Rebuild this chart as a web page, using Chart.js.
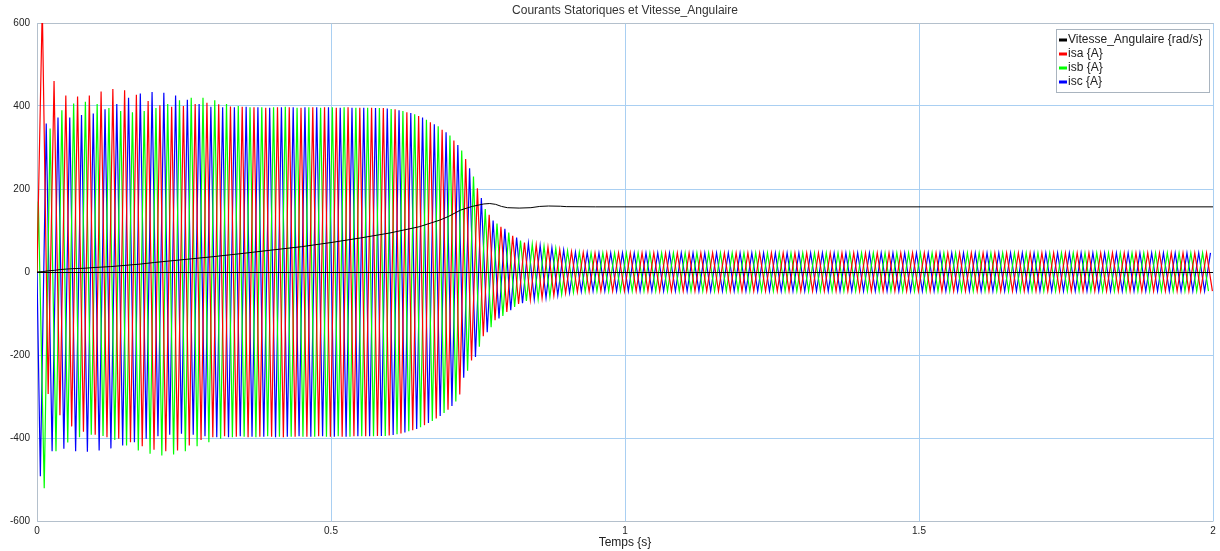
<!DOCTYPE html>
<html>
<head>
<meta charset="utf-8">
<title>Courants Statoriques et Vitesse_Angulaire</title>
<script src="https://cdn.jsdelivr.net/npm/chart.js@4.4.1/dist/chart.umd.min.js"></script>
<style>
  html, body { margin: 0; padding: 0; background: #fff; }
  #wrap { width: 1220px; height: 551px; position: relative; }
</style>
</head>
<body>
<div id="wrap"><canvas id="chart"></canvas></div>
<script>
// ─── Rotor speed (rad/s) ───
const SPEED_T = [0, 0.01, 0.02, 0.03, 0.04, 0.05, 0.06, 0.08, 0.1, 0.125, 0.15, 0.175, 0.2, 0.25, 0.3,
  0.345, 0.4, 0.45, 0.5, 0.55, 0.6, 0.65, 0.685, 0.7, 0.72, 0.74, 0.76, 0.77, 0.78, 0.79, 0.8,
  0.82, 0.84, 0.855, 0.87, 0.89, 0.9, 0.95, 1.0, 1.5, 2.0];
const SPEED = [0, 1, 3, 4, 6, 7, 8, 9, 11, 13, 16, 19, 23, 30, 37,
  44, 53, 61, 71, 82, 94, 109, 125, 134, 149, 158, 164, 165, 163, 158, 155,
  154, 155, 158, 159, 158.5, 157.5, 157, 157, 157, 157];

// ─── Stator currents (A): successive half-cycle extremes, 50 Hz ───
const HALF_PERIOD = 0.01;
const ISA_T0 = 0.009;
const ISB_T0 = 0.0023;
const ISC_T0 = 0.0057;

const ISA_PEAKS = [
  640, -294, 460, -345, 425, -372, 423, -385, 425, -392,
  435, -398, 441, -402, 438, -410, 427, -420, 412, -428,
  402, -432, 398, -430, 400, -418, 405, -405, 408, -398,
  404, -396, 399, -397, 398, -398, 397, -397, 396, -397,
  397, -398, 397, -397, 396, -397, 397, -396, 397, -397,
  396, -397, 397, -396, 396, -396, 396, -395, 395, -394,
  392, -389, 385, -381, 376, -369, 361, -353, 343, -332,
  317, -295, 272, -213, 202, -155, 138, -116, 109, -96,
  87, -77, 71, -67, 65, -63, 60, -57, 54, -51,
  49, -48, 47, -47, 46, -46, 46, -46, 46, -46,
  46, -46, 46, -46, 46, -46, 46, -46, 46, -46,
  46, -46, 46, -46, 46, -46, 46, -46, 46, -46,
  46, -46, 46, -46, 46, -46, 46, -46, 46, -46,
  46, -46, 46, -46, 46, -46, 46, -46, 46, -46,
  46, -46, 46, -46, 46, -46, 46, -46, 46, -46,
  46, -46, 46, -46, 46, -46, 46, -46, 46, -46,
  46, -46, 46, -46, 46, -46, 46, -46, 46, -46,
  46, -46, 46, -46, 46, -46, 46, -46, 46, -46,
  46, -46, 46, -46, 46, -46, 46, -46, 46, -46,
  46, -46, 46, -46, 46, -46, 46, -46, 46, -46
];

const ISB_PEAKS = [
  170, -521, 346, -432, 390, -411, 406, -398, 410, -392,
  405, -395, 395, -405, 388, -418, 385, -430, 388, -438,
  395, -442, 405, -440, 414, -432, 420, -420, 420, -410,
  414, -402, 405, -398, 400, -397, 397, -398, 397, -396,
  397, -397, 398, -397, 396, -397, 397, -397, 396, -397,
  397, -396, 397, -397, 396, -396, 396, -396, 395, -395,
  393, -391, 388, -384, 380, -374, 367, -359, 351, -340,
  329, -312, 293, -238, 230, -180, 152, -133, 117, -106,
  95, -84, 76, -70, 67, -65, 62, -60, 57, -54,
  51, -49, 48, -47, 46, -46, 46, -46, 46, -46,
  46, -46, 46, -46, 46, -46, 46, -46, 46, -46,
  46, -46, 46, -46, 46, -46, 46, -46, 46, -46,
  46, -46, 46, -46, 46, -46, 46, -46, 46, -46,
  46, -46, 46, -46, 46, -46, 46, -46, 46, -46,
  46, -46, 46, -46, 46, -46, 46, -46, 46, -46,
  46, -46, 46, -46, 46, -46, 46, -46, 46, -46,
  46, -46, 46, -46, 46, -46, 46, -46, 46, -46,
  46, -46, 46, -46, 46, -46, 46, -46, 46, -46,
  46, -46, 46, -46, 46, -46, 46, -46, 46, -46,
  46, -46, 46, -46, 46, -46, 46, -46, 46, -46
];

const ISC_PEAKS = [
  -492, 358, -432, 372, -426, 372, -432, 378, -433, 382,
  -430, 392, -425, 405, -418, 420, -410, 430, -402, 434,
  -396, 432, -392, 425, -390, 415, -392, 405, -396, 398,
  -398, 397, -398, 397, -396, 398, -397, 397, -397, 396,
  -398, 397, -397, 397, -396, 397, -397, 397, -396, 397,
  -397, 396, -397, 396, -396, 396, -396, 395, -395, 394,
  -393, 390, -387, 383, -378, 372, -364, 356, -347, 337,
  -323, 306, -255, 250, -205, 178, -145, 124, -112, 104,
  -92, 83, -75, 69, -66, 64, -62, 59, -56, 53,
  -50, 48, -47, 47, -46, 46, -46, 46, -46, 46,
  -46, 46, -46, 46, -46, 46, -46, 46, -46, 46,
  -46, 46, -46, 46, -46, 46, -46, 46, -46, 46,
  -46, 46, -46, 46, -46, 46, -46, 46, -46, 46,
  -46, 46, -46, 46, -46, 46, -46, 46, -46, 46,
  -46, 46, -46, 46, -46, 46, -46, 46, -46, 46,
  -46, 46, -46, 46, -46, 46, -46, 46, -46, 46,
  -46, 46, -46, 46, -46, 46, -46, 46, -46, 46,
  -46, 46, -46, 46, -46, 46, -46, 46, -46, 46,
  -46, 46, -46, 46, -46, 46, -46, 46, -46, 46,
  -46, 46, -46, 46, -46, 46, -46, 46, -46, 46
];

const Y_MIN = -600, Y_MAX = 600, Y_STEP = 200;
const X_MIN = 0, X_MAX = 2, X_STEP = 0.5;
const TITLE = 'Courants Statoriques et Vitesse_Angulaire';

const FONT = '"Liberation Sans", Arial, sans-serif';
const GRID_BLUE = '#a9cff2';
const FRAME = '#b4c0cc';

Chart.defaults.font.family = FONT;
Chart.defaults.color = '#222';

function peakSeries(t0, peaks) {
  const pts = [{ x: 0, y: 0 }];
  peaks.forEach((v, k) => pts.push({ x: t0 + k * HALF_PERIOD, y: v }));
  return pts;
}

const speedPts = SPEED_T.map((t, i) => ({ x: t, y: SPEED[i] }));

// grey frame on the left/top/bottom edges of the plot
const plotFrame = {
  id: 'plotFrame',
  beforeDatasetsDraw(chart) {
    const { ctx, chartArea: a } = chart;
    const l = Math.round(a.left) + 0.5, t = Math.round(a.top) + 0.5;
    const r = Math.round(a.right) + 0.5, b = Math.round(a.bottom) + 0.5;
    ctx.save();
    ctx.strokeStyle = FRAME;
    ctx.lineWidth = 1;
    ctx.beginPath();
    ctx.moveTo(r, t);
    ctx.lineTo(l, t);
    ctx.lineTo(l, b);
    ctx.lineTo(r, b);
    ctx.stroke();
    ctx.restore();
  }
};

// zero line sits above the traces
const zeroLine = {
  id: 'zeroLine',
  afterDatasetsDraw(chart) {
    const { ctx, chartArea, scales } = chart;
    const y = Math.round(scales.y.getPixelForValue(0)) + 0.5;
    ctx.save();
    ctx.strokeStyle = '#000';
    ctx.lineWidth = 1;
    ctx.beginPath();
    ctx.moveTo(chartArea.left, y);
    ctx.lineTo(chartArea.right, y);
    ctx.stroke();
    ctx.restore();
  }
};

// title centred over the plot, legend box inside the plot top right
const plotDecor = {
  id: 'plotDecor',
  afterDraw(chart) {
    const { ctx, chartArea } = chart;
    ctx.save();
    ctx.font = '12px ' + FONT;
    ctx.fillStyle = '#333';
    ctx.textAlign = 'center';
    ctx.textBaseline = 'middle';
    ctx.fillText(TITLE, (chartArea.left + chartArea.right) / 2, 11);

    const w = 154, h = 64;
    const x = chartArea.right - 157, y = chartArea.top + 6;
    ctx.fillStyle = '#fff';
    ctx.fillRect(x, y, w, h);
    ctx.strokeStyle = '#a9b4bf';
    ctx.lineWidth = 1;
    ctx.strokeRect(x + 0.5, y + 0.5, w - 1, h - 1);
    ctx.textAlign = 'left';
    chart.data.datasets.forEach((ds, i) => {
      const cy = y + 11 + i * 14;
      ctx.fillStyle = ds.borderColor;
      ctx.fillRect(x + 3, cy - 1.5, 8, 3);
      ctx.fillStyle = '#222';
      ctx.fillText(ds.label, x + 12, cy);
    });
    ctx.restore();
  }
};

new Chart(document.getElementById('chart'), {
  type: 'line',
  data: {
    datasets: [
      { label: 'Vitesse_Angulaire {rad/s}', data: speedPts, borderColor: '#000000', borderWidth: 1 },
      { label: 'isa {A}', data: peakSeries(ISA_T0, ISA_PEAKS), borderColor: '#ff0000' },
      { label: 'isb {A}', data: peakSeries(ISB_T0, ISB_PEAKS), borderColor: '#00ff00' },
      { label: 'isc {A}', data: peakSeries(ISC_T0, ISC_PEAKS), borderColor: '#0000ff' }
    ]
  },
  options: {
    responsive: true,
    maintainAspectRatio: false,
    animation: false,
    parsing: false,
    normalized: true,
    datasets: {
      line: { borderWidth: 1.2, pointRadius: 0, tension: 0, fill: false }
    },
    layout: { padding: { top: 23, right: 7, bottom: 0, left: 0 } },
    scales: {
      x: {
        type: 'linear',
        min: X_MIN,
        max: X_MAX,
        afterFit: s => { s.height = 30; },
        ticks: {
          stepSize: X_STEP,
          padding: 4,
          font: { size: 10 },
          maxRotation: 0,
          callback: v => String(v)
        },
        grid: { drawTicks: false, color: GRID_BLUE },
        border: { display: false },
        title: {
          display: true,
          text: 'Temps {s}',
          font: { size: 12 },
          color: '#222',
          padding: { top: 0, bottom: 1 }
        }
      },
      y: {
        min: Y_MIN,
        max: Y_MAX,
        afterFit: s => { s.width = 37; },
        ticks: { stepSize: Y_STEP, padding: 7, font: { size: 10 } },
        grid: { drawTicks: false, color: GRID_BLUE },
        border: { display: false }
      }
    },
    plugins: {
      legend: { display: false },
      tooltip: { enabled: false },
      title: { display: false }
    }
  },
  plugins: [plotFrame, zeroLine, plotDecor]
});
</script>
</body>
</html>
